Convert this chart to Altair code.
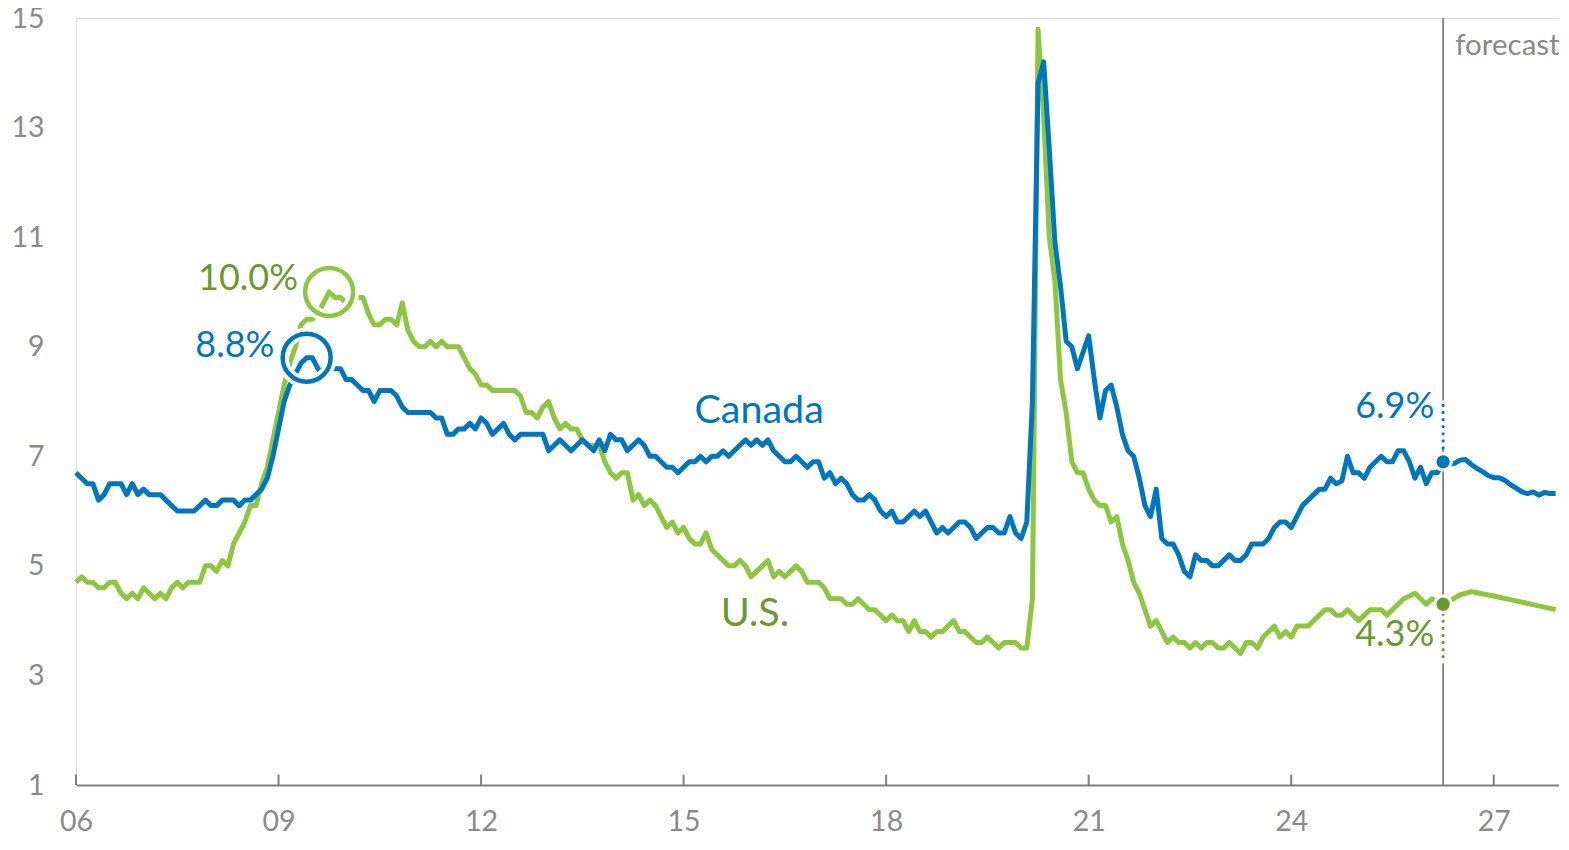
import altair as alt
import pandas as pd

# ---------------- data (monthly, index 0 = Jan 2006) ----------------
canada_actual = [
    # 2006
    6.7, 6.6, 6.5, 6.5, 6.2, 6.3, 6.5, 6.5, 6.5, 6.3, 6.5, 6.3,
    # 2007
    6.4, 6.3, 6.3, 6.3, 6.2, 6.1, 6.0, 6.0, 6.0, 6.0, 6.1, 6.2,
    # 2008
    6.1, 6.1, 6.2, 6.2, 6.2, 6.1, 6.2, 6.2, 6.3, 6.4, 6.6, 7.0,
    # 2009
    7.5, 8.0, 8.3, 8.5, 8.7, 8.8, 8.8, 8.6, 8.5, 8.6, 8.6, 8.6,
    # 2010
    8.4, 8.4, 8.3, 8.2, 8.2, 8.0, 8.2, 8.2, 8.2, 8.1, 7.9, 7.8,
    # 2011
    7.8, 7.8, 7.8, 7.8, 7.7, 7.7, 7.4, 7.4, 7.5, 7.5, 7.6, 7.5,
    # 2012
    7.7, 7.6, 7.4, 7.5, 7.6, 7.4, 7.3, 7.4, 7.4, 7.4, 7.4, 7.4,
    # 2013
    7.1, 7.2, 7.3, 7.2, 7.1, 7.2, 7.3, 7.2, 7.1, 7.3, 7.1, 7.4,
    # 2014
    7.3, 7.3, 7.1, 7.2, 7.3, 7.2, 7.0, 7.0, 6.9, 6.8, 6.8, 6.7,
    # 2015
    6.8, 6.9, 6.9, 7.0, 6.9, 7.0, 7.0, 7.1, 7.0, 7.1, 7.2, 7.3,
    # 2016
    7.2, 7.3, 7.2, 7.3, 7.1, 7.0, 6.9, 6.9, 7.0, 6.9, 6.8, 6.9,
    # 2017
    6.9, 6.6, 6.7, 6.5, 6.6, 6.5, 6.3, 6.2, 6.2, 6.3, 6.2, 6.0,
    # 2018
    5.9, 6.0, 5.8, 5.8, 5.9, 6.0, 5.9, 6.0, 5.8, 5.6, 5.7, 5.6,
    # 2019
    5.7, 5.8, 5.8, 5.7, 5.5, 5.6, 5.7, 5.7, 5.6, 5.6, 5.9, 5.6,
    # 2020
    5.5, 5.8, 8.0, 13.8, 14.2, 12.6, 10.9, 10.1, 9.1, 9.0, 8.6, 8.9,
    # 2021
    9.2, 8.4, 7.7, 8.2, 8.3, 7.9, 7.4, 7.1, 7.0, 6.6, 6.1, 5.9,
    # 2022
    6.4, 5.5, 5.4, 5.4, 5.2, 4.9, 4.8, 5.2, 5.1, 5.1, 5.0, 5.0,
    # 2023
    5.1, 5.2, 5.1, 5.1, 5.2, 5.4, 5.4, 5.4, 5.5, 5.7, 5.8, 5.8,
    # 2024
    5.7, 5.9, 6.1, 6.2, 6.3, 6.4, 6.4, 6.6, 6.5, 6.55, 7.0, 6.7,
    # 2025
    6.7, 6.6, 6.8, 6.9, 7.0, 6.9, 6.9, 7.1, 7.1, 6.9, 6.6, 6.8,
    # 2026 (Jan-Mar)
    6.5, 6.7, 6.7,
]
canada_marker = 6.9          # highlighted point at the forecast line
canada_forecast = [6.85, 6.87, 6.93, 6.94, 6.85, 6.78, 6.72, 6.65, 6.61, 6.61,
                   6.56, 6.48, 6.42, 6.35, 6.32, 6.35, 6.29, 6.34, 6.32, 6.32]

us_actual = [
    4.7, 4.8, 4.7, 4.7, 4.6, 4.6, 4.7, 4.7, 4.5, 4.4, 4.5, 4.4,
    4.6, 4.5, 4.4, 4.5, 4.4, 4.6, 4.7, 4.6, 4.7, 4.7, 4.7, 5.0,
    5.0, 4.9, 5.1, 5.0, 5.4, 5.6, 5.8, 6.1, 6.1, 6.5, 6.8, 7.3,
    7.8, 8.3, 8.7, 9.0, 9.4, 9.5, 9.5, 9.6, 9.8, 10.0, 9.9, 9.9,
    9.8, 9.8, 9.9, 9.9, 9.6, 9.4, 9.4, 9.5, 9.5, 9.4, 9.8, 9.3,
    9.1, 9.0, 9.0, 9.1, 9.0, 9.1, 9.0, 9.0, 9.0, 8.8, 8.6, 8.5,
    8.3, 8.3, 8.2, 8.2, 8.2, 8.2, 8.2, 8.1, 7.8, 7.8, 7.7, 7.9,
    8.0, 7.7, 7.5, 7.6, 7.5, 7.5, 7.3, 7.2, 7.2, 7.2, 6.9, 6.7,
    6.6, 6.7, 6.7, 6.2, 6.3, 6.1, 6.2, 6.1, 5.9, 5.7, 5.8, 5.6,
    5.7, 5.5, 5.4, 5.4, 5.6, 5.3, 5.2, 5.1, 5.0, 5.0, 5.1, 5.0,
    4.8, 4.9, 5.0, 5.1, 4.8, 4.9, 4.8, 4.9, 5.0, 4.9, 4.7, 4.7,
    4.7, 4.6, 4.4, 4.4, 4.4, 4.3, 4.3, 4.4, 4.3, 4.2, 4.2, 4.1,
    4.0, 4.1, 4.0, 4.0, 3.8, 4.0, 3.8, 3.8, 3.7, 3.8, 3.8, 3.9,
    4.0, 3.8, 3.8, 3.7, 3.6, 3.6, 3.7, 3.6, 3.5, 3.6, 3.6, 3.6,
    3.5, 3.5, 4.4, 14.8, 13.2, 11.0, 10.2, 8.4, 7.8, 6.9, 6.7, 6.7,
    6.4, 6.2, 6.1, 6.1, 5.8, 5.9, 5.4, 5.1, 4.7, 4.5, 4.2, 3.9,
    4.0, 3.8, 3.6, 3.7, 3.6, 3.6, 3.5, 3.6, 3.5, 3.6, 3.6, 3.5,
    3.5, 3.6, 3.5, 3.4, 3.6, 3.6, 3.5, 3.7, 3.8, 3.9, 3.7, 3.8,
    3.7, 3.9, 3.9, 3.9, 4.0, 4.1, 4.2, 4.2, 4.1, 4.1, 4.2, 4.1,
    4.0, 4.1, 4.2, 4.2, 4.2, 4.1, 4.2, 4.3, 4.4, None, 4.5, 4.4,
    4.3, 4.4, 4.35,
]
us_marker = 4.3
us_forecast_months = [245, 246, 248, 252, 256, 260, 263]
us_forecast = [4.41, 4.47, 4.53, 4.45, 4.36, 4.27, 4.20]

marker_month = 243           # forecast start
canada_peak_month, us_peak_month = 41, 45
x_ticks = [2006, 2009, 2012, 2015, 2018, 2021, 2024, 2027]
y_ticks = [1, 3, 5, 7, 9, 11, 13, 15]

# ---------------- colours / fonts ----------------
BLUE = "#0076BF"
GREEN = "#8DC63F"
DKGREEN = "#6A9A2E"
GRAY = "#8A8A8A"
AXISGRAY = "#808080"
FONT = "Lato"


def t(m):
    return 2006 + m / 12.0


# ---------------- tables ----------------
ca_vals = canada_actual + [canada_marker] + canada_forecast
ca = pd.DataFrame({"t": [t(m) for m in range(len(ca_vals))], "v": ca_vals})

us_m = list(range(len(us_actual))) + [marker_month] + us_forecast_months
us_v = us_actual + [us_marker] + us_forecast
us = pd.DataFrame({"t": [t(m) for m in us_m], "v": us_v}).dropna()

peaks = pd.DataFrame({
    "t": [t(canada_peak_month), t(us_peak_month)],
    "v": [canada_actual[canada_peak_month], us_actual[us_peak_month]],
    "c": [BLUE, GREEN],
})
dots = pd.DataFrame({
    "t": [t(marker_month)] * 2,
    "v": [canada_marker, us_marker],
    "c": [BLUE, DKGREEN],
})
leaders = pd.DataFrame({
    "t": [t(marker_month)] * 2,
    "v": [7.15, 4.12],
    "v2": [8.02, 3.22],
    "c": [BLUE, DKGREEN],
})
ticks = pd.DataFrame({"t": x_ticks, "v": [1] * len(x_ticks), "v2": [1.19] * len(x_ticks)})

labels_right = pd.DataFrame({
    "t": [2009.29, 2008.94, 2026.12, 2026.12],
    "v": [10.03, 8.81, 7.70, 3.53],
    "txt": ["10.0%", "8.8%", "6.9%", "4.3%"],
    "c": [DKGREEN, BLUE, BLUE, DKGREEN],
})
labels_left = pd.DataFrame({
    "t": [2015.16, 2015.55],
    "v": [7.61, 3.91],
    "txt": ["Canada", "U.S."],
    "c": [BLUE, DKGREEN],
})
fc_label = pd.DataFrame({"t": [2026.43], "v": [14.33], "txt": ["forecast"]})

# ---------------- scales ----------------
xs = alt.Scale(domain=[2006, t(263.6)], nice=False, zero=False)
ys = alt.Scale(domain=[1, 15], nice=False, zero=False)

X = alt.X("t:Q", scale=xs, axis=alt.Axis(
    values=x_ticks, labelExpr="substring(toString(datum.value), 2, 4)",
    domain=True, domainColor=AXISGRAY, domainWidth=2, ticks=False, tickSize=0,
    grid=False, title=None, labelPadding=22, labelFontSize=28.5, labelFont=FONT,
    labelColor=GRAY, labelFlush=False))
Y = alt.Y("v:Q", scale=ys, axis=alt.Axis(
    values=y_ticks, format="d", domain=False, ticks=False, tickSize=0, grid=False,
    title=None, labelPadding=32, labelFontSize=28.5, labelFont=FONT, labelColor=GRAY))
Xp = alt.X("t:Q", scale=xs)
Yp = alt.Y("v:Q", scale=ys)

base_us = alt.Chart(us).mark_line(color=GREEN, strokeWidth=5, strokeJoin="round").encode(X, Y)
base_ca = alt.Chart(ca).mark_line(color=BLUE, strokeWidth=5, strokeJoin="round").encode(Xp, Yp)

axis_ticks = alt.Chart(ticks).mark_rule(color=AXISGRAY, strokeWidth=2).encode(
    Xp, Yp, y2="v2:Q")

fc_rule = alt.Chart(pd.DataFrame({"t": [t(marker_month)]})).mark_rule(
    color=GRAY, strokeWidth=2).encode(x=alt.X("t:Q", scale=xs))

ring_halo = alt.Chart(peaks).mark_point(
    shape="circle", size=2304, filled=False, strokeWidth=12, color="white", opacity=1
).encode(Xp, Yp)
ring = alt.Chart(peaks).mark_point(
    shape="circle", size=2304, filled=False, strokeWidth=4.5, opacity=1
).encode(Xp, Yp, stroke=alt.Color("c:N", scale=None))

lead_bg = alt.Chart(leaders).mark_rule(color="white", strokeWidth=6).encode(Xp, Yp, y2="v2:Q")
lead = alt.Chart(leaders).mark_rule(strokeWidth=3.2, strokeDash=[0.1, 7], strokeCap="round").encode(
    Xp, Yp, y2="v2:Q", color=alt.Color("c:N", scale=None))

dot_halo = alt.Chart(dots).mark_circle(size=380, color="white", opacity=1).encode(Xp, Yp)
dot = alt.Chart(dots).mark_circle(size=175, opacity=1).encode(
    Xp, Yp, color=alt.Color("c:N", scale=None))

txt_r = alt.Chart(labels_right).mark_text(
    align="right", baseline="alphabetic", font=FONT, fontSize=36
).encode(Xp, Yp, text="txt:N", color=alt.Color("c:N", scale=None))
txt_l = alt.Chart(labels_left).mark_text(
    align="left", baseline="alphabetic", font=FONT, fontSize=39.5
).encode(Xp, Yp, text="txt:N", color=alt.Color("c:N", scale=None))
txt_fc = alt.Chart(fc_label).mark_text(
    align="left", baseline="alphabetic", font=FONT, fontSize=29.5, color=GRAY
).encode(Xp, Yp, text="txt:N")

chart = alt.layer(
    base_us, base_ca, axis_ticks, fc_rule, ring_halo, ring, lead_bg, lead,
    dot_halo, dot, txt_r, txt_l, txt_fc
).properties(
    width=1483, height=767,
    autosize=alt.AutoSizeParams(type="none"),
    padding={"left": 68, "top": 10, "right": 0, "bottom": 49},
).configure_view(stroke=None).configure(background="white")

chart.save("out.html", embed_options={"renderer": "svg", "actions": False})
